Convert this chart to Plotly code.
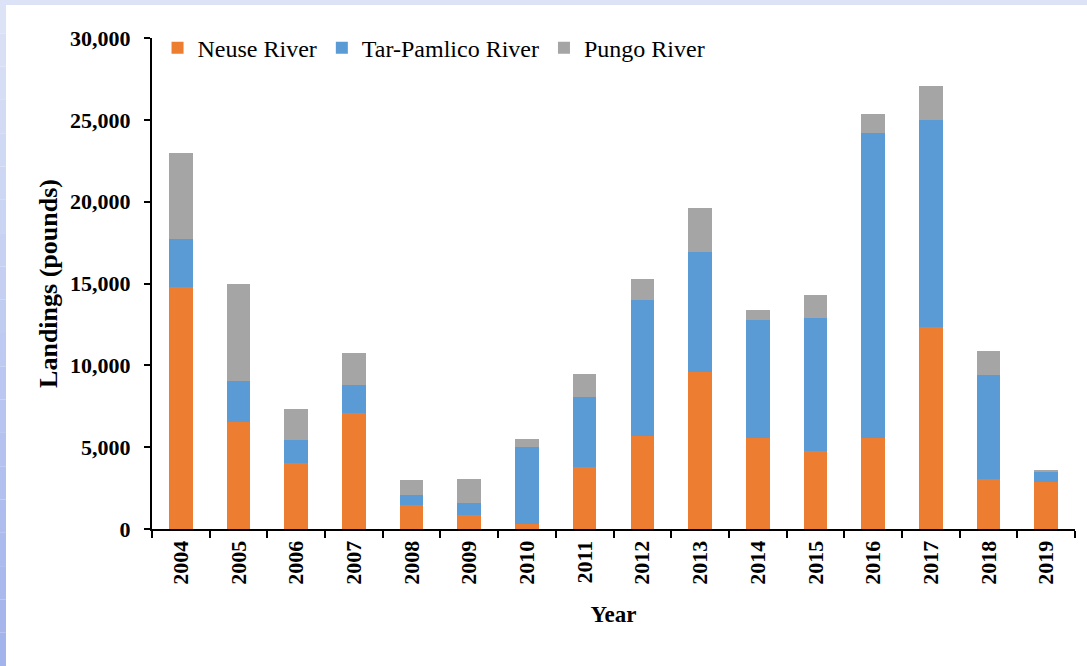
"""Stacked bar: annual landings by river, 2004-2019."""

import plotly.graph_objects as go

years = [str(y) for y in range(2004, 2020)]
neuse = [14800, 6530, 4010, 7080, 1450, 840, 310, 3770,
         5710, 9570, 5580, 4770, 5580, 12360, 3030, 2880]
tar_pamlico = [2940, 2490, 1450, 1690, 620, 740, 4700, 4270,
               8260, 7330, 7180, 8110, 18630, 12610, 6400, 660]
pungo = [5260, 5920, 1880, 1990, 900, 1450, 510, 1430,
         1290, 2700, 640, 1400, 1120, 2110, 1470, 60]

series = [
    ("Neuse River", neuse, "#ED7D31"),
    ("Tar-Pamlico River", tar_pamlico, "#5B9BD5"),
    ("Pungo River", pungo, "#A5A5A5"),
]

W, H = 1087, 666
ML, MR, MT, MB = 152, 12, 38, 137
PW, PH = W - ML - MR, H - MT - MB
FONT = "Liberation Serif"

fig = go.Figure()
for name, vals, color in series:
    fig.add_trace(go.Bar(x=years, y=vals, name=name, marker_color=color,
                         marker_line_width=0))

# lavender frame strips on the left and top edges (gradient faked with bands)
def px_x(p):
    return (p - ML) / PW


def px_y(p):
    return 1 - (p - MT) / PH


shapes = [dict(type="rect", xref="paper", yref="paper",
               x0=px_x(0), x1=px_x(W), y0=px_y(0), y1=px_y(5),
               fillcolor="#DCE3F6", line_width=0, layer="below")]
bands = 20
top_c, bot_c = (220, 227, 246), (163, 179, 236)
for i in range(bands):
    t = i / (bands - 1)
    c = tuple(round(a + (b - a) * t) for a, b in zip(top_c, bot_c))
    shapes.append(dict(type="rect", xref="paper", yref="paper",
                       x0=px_x(0), x1=px_x(6),
                       y0=px_y(H * i / bands), y1=px_y(H * (i + 1) / bands),
                       fillcolor="rgb(%d,%d,%d)" % c, line_width=0, layer="below"))

fig.update_layout(
    barmode="stack",
    bargap=0.59,
    width=W, height=H,
    margin=dict(l=ML, r=MR, t=MT, b=MB),
    paper_bgcolor="white",
    plot_bgcolor="white",
    font=dict(family=FONT, color="black"),
    shapes=shapes,
    legend=dict(orientation="h", x=0.006, y=1.025, xanchor="left", yanchor="top",
                traceorder="normal",
                font=dict(size=24, family=FONT, color="black"),
                bgcolor="rgba(0,0,0,0)"),
    xaxis=dict(
        title=dict(text="<b>Year</b>", font=dict(size=23, family=FONT), standoff=22),
        tickangle=-90,
        tickfont=dict(size=22, family=FONT, weight="bold"),
        showline=True, linecolor="black", linewidth=2,
        ticks="outside", tickson="boundaries", ticklen=7, tickcolor="black",
        tickwidth=2, showgrid=False, ticklabelstandoff=1,
    ),
    yaxis=dict(
        title=dict(text="<b>Landings (pounds)</b>", font=dict(size=26, family=FONT),
                   standoff=5),
        range=[0, 30000], dtick=5000, tickformat=",d",
        tickfont=dict(size=22, family=FONT, weight="bold"),
        showline=True, linecolor="black", linewidth=2,
        ticks="outside", ticklen=6, tickcolor="black", tickwidth=2,
        ticklabelstandoff=9, showgrid=False, zeroline=False,
    ),
)

fig.write_html("out.html", config={"displayModeBar": False},
               post_script="document.body.style.margin='0';")
